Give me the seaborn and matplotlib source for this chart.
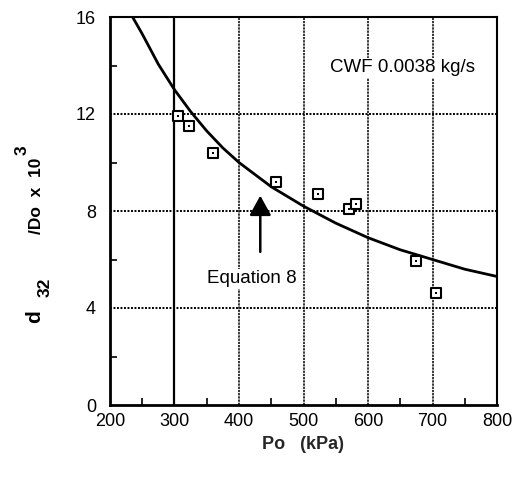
import matplotlib
matplotlib.use("Agg")
import matplotlib.pyplot as plt
import seaborn as sns
import numpy as np
import pandas as pd

# data
po_points = [305, 322, 360, 457, 523, 571, 581, 674, 705]
d32_points = [11.9, 11.5, 10.4, 9.2, 8.7, 8.1, 8.3, 5.95, 4.6]

po_curve = [235, 250, 275, 300, 325, 350, 375, 400, 450, 500, 550, 600, 650, 700, 750, 800]
d32_curve = [16.0, 15.3, 14.05, 13.0, 12.1, 11.3, 10.6, 10.0, 9.0, 8.2, 7.5, 6.9, 6.4, 6.0, 5.6, 5.3]

x_ticks = [200, 300, 400, 500, 600, 700, 800]
y_ticks = [0, 4, 8, 12, 16]

sns.set_theme(style="white")
plt.rcParams['font.family'] = ['Liberation Sans', 'DejaVu Sans']

W, H = 515, 479
fig = plt.figure(figsize=(W/100, H/100), dpi=100)
ax = fig.add_axes([110/W, 1-405/H, (497-110)/W, (405-17)/H])

df_pts = pd.DataFrame({"Po": po_points, "d32": d32_points})
df_curve = pd.DataFrame({"Po": po_curve, "d32": d32_curve})

# grid
for xv in x_ticks[1:-1]:
    if xv == 300:
        ax.axvline(xv, color='black', lw=1.6, zorder=1)
    else:
        ax.axvline(xv, color='black', lw=1.1, ls=(0, (1.5, 0.6)), zorder=1)
for yv in y_ticks[1:-1]:
    ax.axhline(yv, color='black', lw=1.4, ls=(0, (1, 0.8)), zorder=1)

sns.lineplot(data=df_curve, x="Po", y="d32", ax=ax, color='black', lw=2.0, zorder=3)
sns.scatterplot(data=df_pts, x="Po", y="d32", ax=ax, marker='s', s=55,
                facecolor='white', edgecolor='black', linewidth=1.5, zorder=4)
sns.scatterplot(data=df_pts, x="Po", y="d32", ax=ax, marker='s', s=3,
                color='black', linewidth=0, zorder=5)

ax.set_xlim(200, 800)
ax.set_ylim(0, 16)
ax.set_xticks(x_ticks)
ax.set_yticks(y_ticks)
ax.set_xticks([250, 350, 450, 550, 650, 750], minor=True)
ax.set_yticks([2, 6, 10, 14], minor=True)
ax.tick_params(axis='both', which='major', length=0, labelsize=13, colors='black')
ax.tick_params(axis='x', which='major', pad=6)
ax.tick_params(axis='y', which='major', pad=10)
ax.tick_params(axis='both', which='minor', direction='in', length=5, width=1.2,
               bottom=True, left=True, color='black')

for side in ['left', 'bottom']:
    ax.spines[side].set_linewidth(2.0)
    ax.spines[side].set_color('black')
for side in ['top', 'right']:
    ax.spines[side].set_linewidth(1.5)
    ax.spines[side].set_color('black')

ax.set_xlabel("Po   (kPa)", fontsize=13, fontweight='bold', labelpad=4)
ax.set_ylabel("")

# y-axis label in pieces (d, subscript 32, /Do x 10, superscript 3)
def ftext(x, y, s, size):
    fig.text(x/W, 1-y/H, s, rotation=90, ha='center', va='center',
             fontsize=size, fontweight='bold', color='black')

ftext(35, 317, "d", 15)
ftext(45, 287, "32", 12.5)
ftext(37, 196, "/Do  x  10", 12.5)
ftext(22, 150, "3", 12.5)

ax.text(653, 13.9, "CWF 0.0038 kg/s", fontsize=13.5, ha='center', va='center',
        color='black',
        bbox=dict(facecolor='white', edgecolor='none', pad=1))
ax.text(420, 5.2, "Equation 8", fontsize=13.5, ha='center', va='center', color='black',
        bbox=dict(facecolor='white', edgecolor='none', pad=1))
ax.annotate("", xy=(433, 8.75), xytext=(433, 6.2),
            arrowprops=dict(arrowstyle='-|>,head_width=0.55,head_length=1.0',
                            color='black', lw=1.8), zorder=6)

fig.savefig("out.png", dpi=100)
